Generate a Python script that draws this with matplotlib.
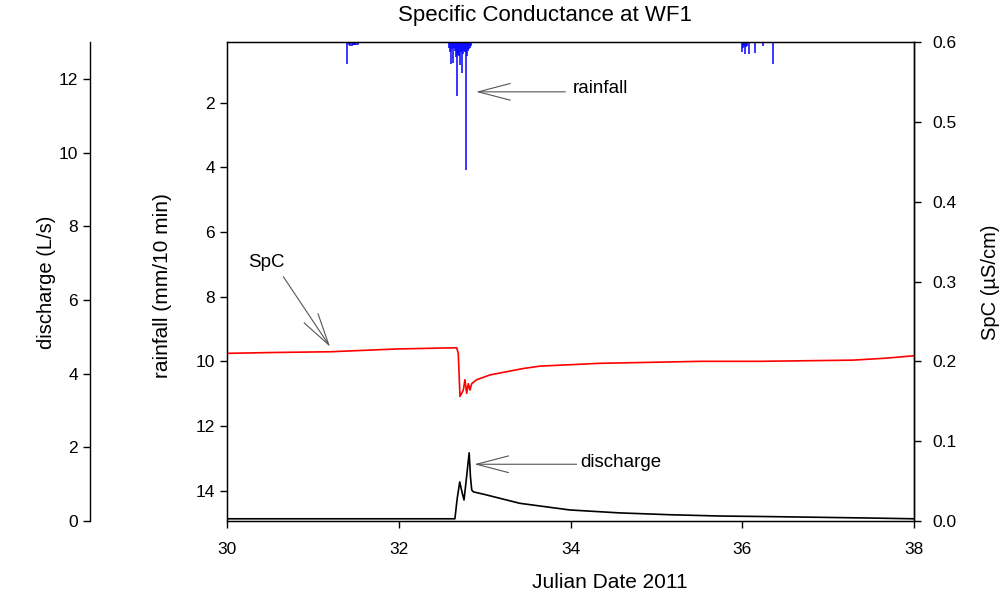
import matplotlib
matplotlib.use('Agg')
import matplotlib.pyplot as plt
from matplotlib.ticker import FormatStrFormatter

plt.rcParams['font.family'] = ['Liberation Sans', 'DejaVu Sans']

# rainfall (mm/10 min), hanging bars from the top
rain_day = [31.403, 31.424, 31.438, 31.452, 31.466, 31.480, 31.494, 31.508, 31.522,
            32.585, 32.595, 32.603, 32.615, 32.629, 32.640, 32.652, 32.664, 32.676,
            32.688, 32.700, 32.713, 32.725, 32.737, 32.749, 32.760, 32.772, 32.787,
            32.798, 32.810, 32.822, 32.832, 32.840,
            35.994, 36.005, 36.018, 36.030, 36.045, 36.060, 36.079, 36.143, 36.236, 36.356]
rain_mm = [0.80, 0.23, 0.25, 0.25, 0.23, 0.22, 0.23, 0.22, 0.22,
           0.32, 0.45, 0.80, 0.35, 0.77, 0.30, 0.40, 0.60, 1.80,
           0.52, 0.55, 0.83, 0.45, 1.08, 0.50, 0.40, 0.45, 4.07,
           0.55, 0.40, 0.35, 0.30, 0.25,
           0.45, 0.30, 0.25, 0.50, 0.28, 0.25, 0.50, 0.46, 0.25, 0.80]

# specific conductance (uS/cm)
spc_day = [30.0, 30.5, 31.2, 31.98, 32.675, 32.693, 32.713, 32.752, 32.771, 32.791,
           32.810, 32.830, 32.849, 32.908, 33.063, 33.257, 33.45, 33.645, 34.34,
           35.51, 36.2, 37.29, 37.68, 38.0]
spc = [0.210, 0.211, 0.212, 0.2155, 0.217, 0.210, 0.156, 0.164, 0.177, 0.160,
       0.172, 0.164, 0.172, 0.177, 0.183, 0.187, 0.191, 0.194, 0.1975,
       0.200, 0.200, 0.2015, 0.204, 0.207]

# discharge (L/s)
q_day = [30.0, 31.0, 32.0, 32.654, 32.68, 32.71, 32.74, 32.76, 32.79, 32.82, 32.835,
         32.85, 32.87, 33.0, 33.41, 33.99, 34.57, 35.16, 35.74, 36.3, 36.9, 37.5, 38.0]
q = [0.06, 0.06, 0.06, 0.06, 0.60, 1.06, 0.75, 0.57, 1.20, 1.85, 1.20,
     0.84, 0.79, 0.72, 0.48, 0.30, 0.22, 0.17, 0.135, 0.12, 0.10, 0.08, 0.06]

x_ticks = [30, 32, 34, 36, 38]
rain_ticks = [2, 4, 6, 8, 10, 12, 14]
spc_ticks = [0.0, 0.1, 0.2, 0.3, 0.4, 0.5, 0.6]
q_ticks = [0, 2, 4, 6, 8, 10, 12]

W, H = 1007, 604
fig = plt.figure(figsize=(W / 100, H / 100), dpi=100)
fig.patch.set_facecolor('white')

L, R, T, B = 227, 914, 42, 521
ax = fig.add_axes([L / W, 1 - B / H, (R - L) / W, (B - T) / H])

tick_kw = dict(direction='out', length=5, width=1.0, labelsize=12.5, colors='black')

# rainfall on main axis (inverted)
ax.vlines(rain_day, 0, rain_mm, color='#0000ff', lw=1.1)
ax.set_xlim(30, 38)
ax.set_ylim(14.93, 0.13)
ax.set_xticks(x_ticks)
ax.set_yticks(rain_ticks)
ax.tick_params(axis='both', **tick_kw)
ax.tick_params(axis='x', pad=10)
for s in ax.spines.values():
    s.set_linewidth(1.0)

# SpC on right axis
ax2 = ax.twinx()
ax2.plot(spc_day, spc, color='#ff0000', lw=1.2)
ax2.set_ylim(0, 0.6)
ax2.set_yticks(spc_ticks)
ax2.yaxis.set_major_formatter(FormatStrFormatter('%.1f'))
ax2.tick_params(axis='y', **tick_kw)
ax2.tick_params(axis='y', pad=8)
ax2.spines['right'].set_linewidth(1.0)

# discharge on offset left axis
ax3 = ax.twinx()
ax3.plot(q_day, q, color='black', lw=1.2)
ax3.set_ylim(0, 13)
ax3.set_yticks(q_ticks)
ax3.spines['left'].set_position(('axes', (90 - L) / (R - L)))
ax3.spines['left'].set_visible(True)
ax3.spines['left'].set_linewidth(1.0)
for side in ['right', 'top', 'bottom']:
    ax3.spines[side].set_visible(False)
ax3.yaxis.set_ticks_position('left')
ax3.tick_params(axis='y', **tick_kw)

# annotations
arr = dict(arrowstyle='->, head_length=2.3, head_width=0.6', color='#555555',
           lw=0.8, shrinkA=0, shrinkB=0, mutation_scale=10)
ax.annotate('', xy=(32.90, 1.67), xytext=(33.94, 1.67), arrowprops=arr)
ax.text(34.03, 1.58, 'rainfall', fontsize=13.5, ha='left', va='center')

ax2.annotate('', xy=(31.20, 0.2183), xytext=(30.656, 0.306), arrowprops=arr)
ax2.text(30.454, 0.3244, 'SpC', fontsize=13.5, ha='center', va='center')

ax3.annotate('', xy=(32.88, 1.54), xytext=(34.07, 1.54), arrowprops=arr)
ax3.text(34.11, 1.58, 'discharge', fontsize=13.5, ha='left', va='center')

# titles and labels
fig.text(545 / W, 1 - 15 / H, 'Specific Conductance at WF1', fontsize=16,
         ha='center', va='center')
fig.text(610 / W, 1 - 583 / H, 'Julian Date 2011', fontsize=15,
         ha='center', va='center')
fig.text(47 / W, 1 - 282 / H, 'discharge (L/s)', fontsize=14.5, rotation=90,
         ha='center', va='center')
fig.text(163 / W, 1 - 286 / H, 'rainfall (mm/10 min)', fontsize=15, rotation=90,
         ha='center', va='center')
fig.text(990 / W, 1 - 282 / H, 'SpC (µS/cm)', fontsize=14.5, rotation=90,
         ha='center', va='center')

fig.savefig('out.png', dpi=100, facecolor='white')
